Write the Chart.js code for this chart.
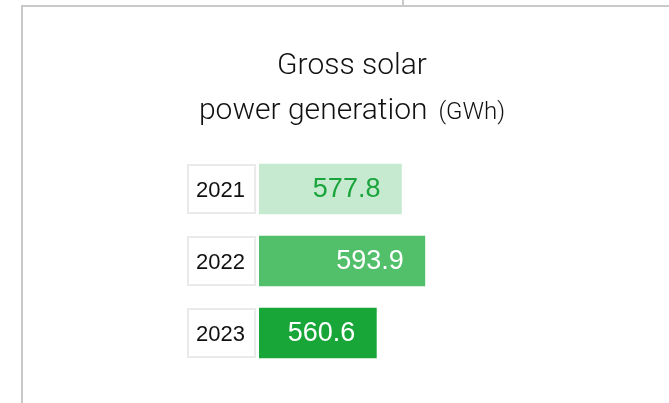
<!DOCTYPE html>
<html>
<head>
<meta charset="utf-8">
<title>Gross solar power generation</title>
<script src="https://cdn.jsdelivr.net/npm/chart.js@4.4.1/dist/chart.umd.min.js"></script>
<style>
	html, body { margin: 0; padding: 0; background: #fff; }
	#wrap { position: relative; width: 669px; height: 403px; overflow: hidden; }
	#frame { position: absolute; left: 21px; top: 5px; right: -10px; bottom: -10px;
		border-left: 2px solid #c9c9c9; border-top: 2px solid #c9c9c9; }
	#notch { position: absolute; left: 402px; top: 0; width: 2px; height: 6px; background: #c9c9c9; }
	#mycanvas { position: absolute; left: 0; top: 0; }
</style>
</head>
<body>
<div id="wrap">
	<div id="frame"></div>
	<div id="notch"></div>
	<canvas id="mycanvas" width="669" height="403"></canvas>
</div>
<script>
var years = ['2021', '2022', '2023'];
var generation = [577.8, 593.9, 560.6];
var barColors = ['#c5ead0', '#52bf6b', '#17a637'];
var valueColors = ['#1ba43b', '#ffffff', '#ffffff'];
var titleLines = ['Gross solar', 'power generation'];
var unitText = '(GWh)';

// heading, drawn straight onto the canvas so the unit can be smaller
var headingPlugin = {
	id: 'heading',
	afterDraw: function(chart) {
		var ctx = chart.ctx;
		var cx = 352;
		ctx.save();
		ctx.fillStyle = '#111';
		ctx.textBaseline = 'alphabetic';
		ctx.font = '300 30px Roboto, "Liberation Sans", sans-serif';
		ctx.textAlign = 'center';
		ctx.fillText(titleLines[0], cx, 74);

		var w1 = ctx.measureText(titleLines[1]).width;
		ctx.font = '300 24px Roboto, "Liberation Sans", sans-serif';
		var w2 = ctx.measureText(unitText).width;
		var start = cx - (w1 + 11 + w2) / 2;
		ctx.textAlign = 'left';
		ctx.fillText(unitText, start + w1 + 11, 119);
		ctx.font = '300 30px Roboto, "Liberation Sans", sans-serif';
		ctx.fillText(titleLines[1], start, 119);
		ctx.restore();
	}
};

// white boxes with a grey outline behind the year labels
var yearBoxPlugin = {
	id: 'yearBoxes',
	beforeDraw: function(chart) {
		var ctx = chart.ctx;
		var left = chart.chartArea.left;
		var meta = chart.getDatasetMeta(0);
		ctx.save();
		ctx.strokeStyle = '#eaeaea';
		ctx.lineWidth = 2;
		ctx.fillStyle = '#fff';
		meta.data.forEach(function(bar) {
			var p = bar.getProps(['y', 'height'], true);
			var top = p.y - p.height / 2;
			ctx.fillRect(left - 72, top, 69, p.height);
			ctx.strokeRect(left - 71, top + 1, 67, p.height - 2);
		});
		ctx.restore();
	}
};

// numbers written inside the end of each bar
var valuePlugin = {
	id: 'barValues',
	afterDatasetsDraw: function(chart) {
		var ctx = chart.ctx;
		var meta = chart.getDatasetMeta(0);
		ctx.save();
		ctx.font = '27px "Liberation Sans", Arial, sans-serif';
		ctx.textAlign = 'right';
		ctx.textBaseline = 'middle';
		meta.data.forEach(function(bar, i) {
			var p = bar.getProps(['x', 'y'], true);
			ctx.fillStyle = valueColors[i];
			ctx.fillText(generation[i].toFixed(1), p.x - 21, p.y + 1);
		});
		ctx.restore();
	}
};

var ctx = document.getElementById('mycanvas');
var barGraph = new Chart(ctx, {
	type: 'bar',
	data: {
		labels: years,
		datasets: [{
			data: generation,
			backgroundColor: barColors,
			borderWidth: 0,
			barThickness: 50
		}]
	},
	options: {
		indexAxis: 'y',
		responsive: false,
		animation: false,
		layout: { padding: { top: 153, bottom: 34, left: 184, right: 177 } },
		plugins: {
			legend: { display: false },
			tooltip: { enabled: false }
		},
		scales: {
			x: {
				display: false,
				min: 480,
				max: 640
			},
			y: {
				grid: { display: false, drawTicks: false },
				border: { display: false },
				afterFit: function(scale) { scale.width = 75; },
				ticks: {
					crossAlign: 'center',
					padding: 14,
					labelOffset: 2,
					color: '#111',
					font: { family: '"Liberation Sans", Arial, sans-serif', size: 22 }
				}
			}
		}
	},
	plugins: [yearBoxPlugin, valuePlugin, headingPlugin]
});
</script>
</body>
</html>
